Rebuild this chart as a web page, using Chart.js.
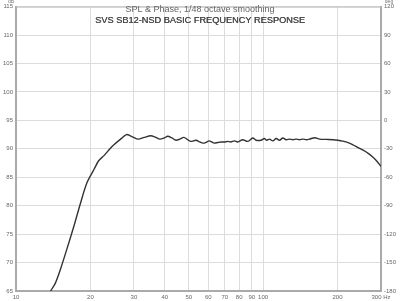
<!DOCTYPE html>
<html>
<head>
<meta charset="utf-8">
<script src="https://cdn.jsdelivr.net/npm/chart.js@4"></script>
<style>
html,body{margin:0;padding:0;background:#fff;}
#wrap{position:relative;width:400px;height:301px;}
</style>
</head>
<body>
<div id="wrap"><canvas id="c" width="400" height="301"></canvas></div>
<script>
const titleLines = ["SPL & Phase, 1/48 octave smoothing", "SVS SB12-NSD BASIC FREQUENCY RESPONSE"];
const leftUnit = "dB";
const rightUnit = "deg";
const xTicks = [10, 20, 30, 40, 50, 60, 70, 80, 90, 100, 200, 300];
const xTickLabels = ["10", "20", "30", "40", "50", "60", "70", "80", "90", "100", "200", "300 Hz"];
const freqs = [13.5, 13.9, 14.4, 15.1, 16.1, 17.1, 18.2, 19.4, 20.7, 21.6, 22.7, 24.0, 24.9, 26.5, 28.0, 29.3, 31.1, 33.0, 35.1, 36.8, 38.2, 39.8, 41.1, 42.8, 44.4, 46.0, 47.8, 49.5, 51.0, 53.5, 55.5, 57.1, 58.5, 60.5, 62.0, 63.4, 65.5, 67.5, 69.8, 71.9, 74.0, 76.5, 78.9, 82.7, 86.7, 90.8, 93.7, 98.1, 101.2, 103.5, 106.1, 109.5, 112.9, 116.5, 120.2, 124.0, 127.9, 132.0, 136.1, 140.4, 145.0, 149.5, 154.2, 161.6, 169.3, 180.3, 191.9, 201, 210, 220.8, 231, 242.4, 254, 266.2, 277, 287.6, 300];
const spl = [64.3, 65.2, 66.3, 68.7, 72.5, 76.2, 80.3, 84.1, 86.4, 87.9, 88.8, 90.0, 90.7, 91.7, 92.5, 92.2, 91.7, 92.0, 92.3, 92.0, 91.7, 91.9, 92.2, 91.9, 91.5, 91.7, 92.0, 91.6, 91.3, 91.5, 91.2, 91.0, 91.1, 91.4, 91.2, 91.0, 91.1, 91.2, 91.2, 91.3, 91.2, 91.4, 91.2, 91.6, 91.3, 91.9, 91.5, 91.5, 91.8, 91.5, 91.7, 91.4, 91.8, 91.5, 91.9, 91.6, 91.7, 91.6, 91.7, 91.6, 91.7, 91.6, 91.7, 91.95, 91.7, 91.65, 91.6, 91.5, 91.35, 91.1, 90.7, 90.2, 89.75, 89.2, 88.6, 87.9, 86.9];

const FONT = '"Liberation Sans", Arial, sans-serif';
const tickFont = {family: FONT, size: 6};

const overlay = {
  id: 'overlay',
  afterDraw(chart) {
    const ctx = chart.ctx, a = chart.chartArea;
    ctx.save();
    ctx.strokeStyle = '#bbbbbb';
    ctx.lineWidth = 1;
    ctx.beginPath();
    ctx.moveTo(a.left, a.top + 0.5);
    ctx.lineTo(a.right, a.top + 0.5);
    ctx.stroke();
    ctx.textAlign = 'center';
    ctx.textBaseline = 'middle';
    ctx.fillStyle = '#666';
    ctx.font = '9px ' + FONT;
    ctx.fillText(titleLines[0], 200, 10);
    ctx.fillStyle = '#4a4a4a';
    ctx.font = '9.2px ' + FONT;
    ctx.fillText(titleLines[1], 200, 20);
    ctx.fillText(titleLines[1], 200.4, 20);
    ctx.font = '5px ' + FONT;
    ctx.fillStyle = '#777';
    ctx.fillText(leftUnit, 11, 2);
    ctx.fillText(rightUnit, 389, 2);
    ctx.restore();
  }
};

new Chart(document.getElementById('c'), {
  type: 'line',
  data: {
    datasets: [{
      data: freqs.map((f, i) => ({x: f, y: spl[i]})),
      borderColor: '#333',
      borderWidth: 1.4,
      pointRadius: 0,
      tension: 0.3,
      fill: false,
      yAxisID: 'y'
    }]
  },
  options: {
    responsive: false,
    animation: false,
    devicePixelRatio: 1,
    layout: {padding: 0},
    plugins: {legend: {display: false}, tooltip: {enabled: false}, title: {display: false}},
    scales: {
      x: {
        type: 'logarithmic', min: 10, max: 300, position: 'bottom',
        afterBuildTicks: s => { s.ticks = xTicks.map(v => ({value: v})); },
        afterFit: s => { s.height = 10; },
        ticks: {font: tickFont, color: '#666', padding: 3, maxRotation: 0, autoSkip: false,
          callback: (v) => { const i = xTicks.indexOf(v); return i >= 0 ? xTickLabels[i] : ''; }},
        grid: {color: '#dcdcdc', drawTicks: false, lineWidth: 1},
        border: {color: '#aaaaaa', width: 2}
      },
      y: {
        type: 'linear', min: 65, max: 115, position: 'left',
        afterFit: s => { s.width = 16; },
        ticks: {stepSize: 5, font: tickFont, color: '#666', padding: 3},
        grid: {color: '#dcdcdc', drawTicks: false, lineWidth: 1},
        border: {color: '#aaaaaa', width: 2}
      },
      y2: {
        type: 'linear', min: -180, max: 120, position: 'right',
        afterFit: s => { s.width = 19; },
        ticks: {stepSize: 30, font: tickFont, color: '#666', padding: 3},
        grid: {drawOnChartArea: false, drawTicks: false},
        border: {color: '#aaaaaa', width: 2}
      }
    }
  },
  plugins: [overlay]
});
</script>
</body>
</html>
